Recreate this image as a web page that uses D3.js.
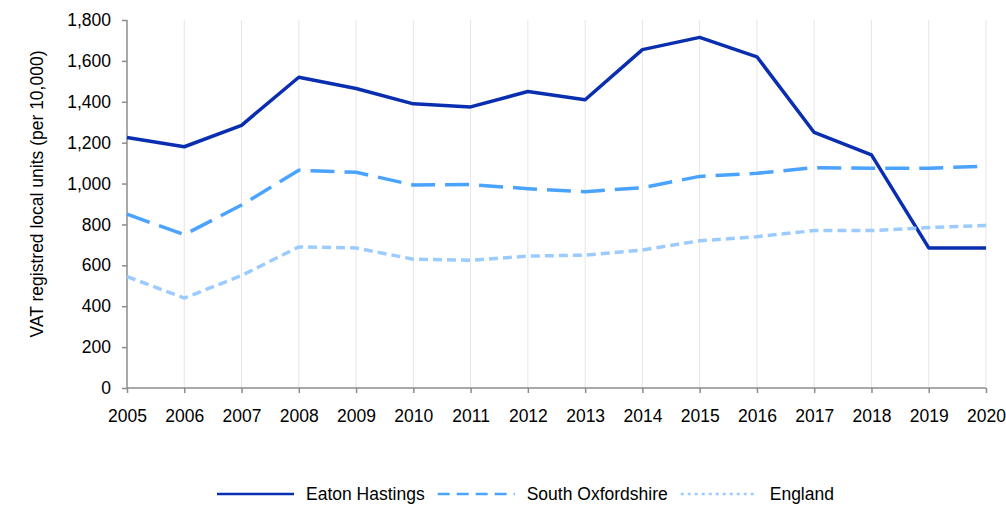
<!DOCTYPE html>
<html>
<head>
<meta charset="utf-8">
<script src="https://cdn.jsdelivr.net/npm/d3@7"></script>
<style>
  html, body { margin: 0; padding: 0; background: #fff; }
  svg { display: block; font-family: "Liberation Sans", Arial, sans-serif; }
</style>
</head>
<body>
<svg id="chart" width="1006" height="505"></svg>
<script>
// VAT registered local units per 10,000 population, 2005–2020
const years = [2005, 2006, 2007, 2008, 2009, 2010, 2011, 2012, 2013, 2014, 2015, 2016, 2017, 2018, 2019, 2020];
const eatonHastings = [1225, 1180, 1285, 1520, 1465, 1390, 1375, 1450, 1410, 1655, 1715, 1620, 1250, 1140, 685, 685];
const southOxfordshire = [850, 750, 895, 1065, 1055, 993, 995, 975, 960, 980, 1035, 1050, 1078, 1075, 1075, 1085];
const england = [545, 440, 550, 690, 685, 630, 625, 645, 650, 675, 720, 740, 770, 770, 785, 795];
const seriesNames = ["Eaton Hastings", "South Oxfordshire", "England"];
const yTicks = [0, 200, 400, 600, 800, 1000, 1200, 1400, 1600, 1800];
const yTitle = "VAT registred local units (per 10,000)";

const FONT = 17.5;
const seriesStyle = [
  { color: "#0a2eb0", dash: null, legendDash: null },
  { color: "#4aa3ff", dash: "24,10", legendDash: "12,7" },
  { color: "#9cccff", dash: "9,5", legendDash: "3,4" }
];
const seriesData = [eatonHastings, southOxfordshire, england];

const svg = d3.select("#chart");
const plotLeft = 127, plotRight = 986, plotTop = 20, plotBottom = 388;

const x = d3.scaleLinear().domain([years[0], years[years.length - 1]]).range([plotLeft, plotRight]);
const y = d3.scaleLinear().domain([0, 1800]).range([plotBottom, plotTop]);

// vertical gridlines at each year
svg.append("g")
  .selectAll("line")
  .data(years.slice(1))
  .join("line")
  .attr("x1", d => x(d)).attr("x2", d => x(d))
  .attr("y1", plotTop).attr("y2", plotBottom)
  .attr("stroke", "#e6e6e6").attr("stroke-width", 1);

// y axis
const yAxis = svg.append("g")
  .attr("transform", `translate(${plotLeft},0)`)
  .call(d3.axisLeft(y).tickValues(yTicks).tickFormat(d3.format(",")).tickSize(5).tickPadding(11));
yAxis.select(".domain").attr("stroke", "#8c8c8c").attr("stroke-width", 1.5).attr("d", `M0,${plotTop}V${plotBottom}`);
yAxis.selectAll(".tick line").attr("stroke", "#8c8c8c").attr("stroke-width", 1.5);
yAxis.selectAll(".tick text").attr("font-size", FONT).attr("fill", "#000").attr("font-family", "Liberation Sans, Arial, sans-serif");

// x axis
const xAxis = svg.append("g")
  .attr("transform", `translate(0,${plotBottom})`)
  .call(d3.axisBottom(x).tickValues(years).tickFormat(d3.format("d")).tickSize(5).tickPadding(17));
xAxis.select(".domain").attr("stroke", "#8c8c8c").attr("stroke-width", 1.5).attr("d", `M${plotLeft},0H${plotRight}`);
xAxis.selectAll(".tick line").attr("stroke", "#8c8c8c").attr("stroke-width", 1.5);
xAxis.selectAll(".tick text").attr("font-size", FONT).attr("fill", "#000").attr("font-family", "Liberation Sans, Arial, sans-serif");

// y axis title
svg.append("text")
  .attr("transform", `translate(43,${(plotTop + plotBottom) / 2 - 10}) rotate(-90)`)
  .attr("text-anchor", "middle")
  .attr("font-size", FONT)
  .attr("fill", "#000")
  .text(yTitle);

// series lines
const line = d3.line().x((d, i) => x(years[i])).y(d => y(d));
seriesData.forEach((vals, k) => {
  svg.append("path")
    .datum(vals)
    .attr("d", line)
    .attr("fill", "none")
    .attr("stroke", seriesStyle[k].color)
    .attr("stroke-width", 3.5)
    .attr("stroke-dasharray", seriesStyle[k].dash)
    .attr("stroke-linejoin", "round");
});

// legend: sample line, then label, laid out left to right
const legendY = 494;
const legend = svg.append("g");
let cursor = 217;
seriesNames.forEach((name, k) => {
  legend.append("line")
    .attr("x1", cursor).attr("x2", cursor + 77)
    .attr("y1", legendY).attr("y2", legendY)
    .attr("stroke", seriesStyle[k].color)
    .attr("stroke-width", 2.5)
    .attr("stroke-dasharray", seriesStyle[k].legendDash);
  const t = legend.append("text")
    .attr("x", cursor + 89).attr("y", legendY + 6)
    .attr("font-size", FONT)
    .attr("fill", "#000")
    .text(name);
  cursor = cursor + 89 + t.node().getComputedTextLength() + 13;
});
</script>
</body>
</html>
